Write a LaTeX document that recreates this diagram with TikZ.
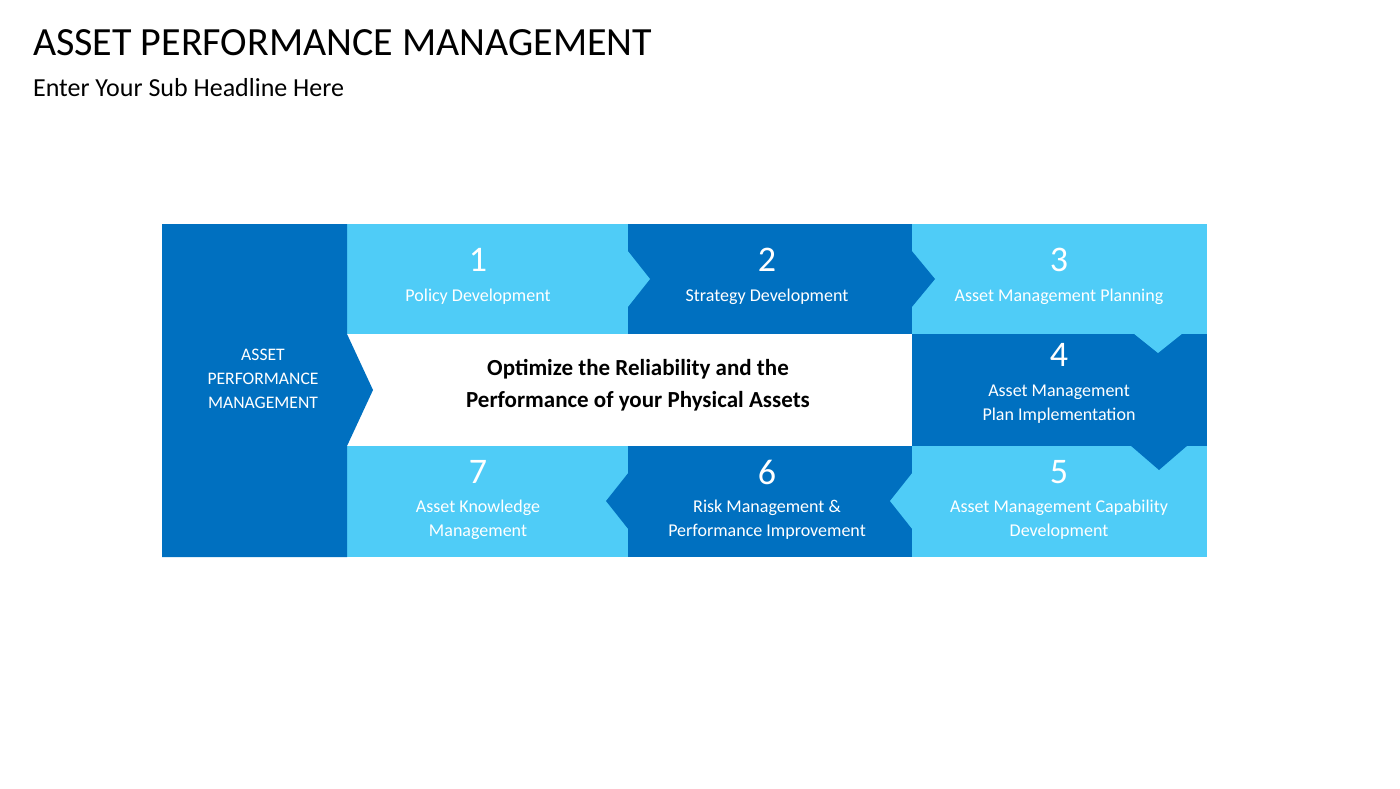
\documentclass[tikz,border=0pt]{standalone}
\usepackage{fontspec}
\setmainfont{Carlito}
\definecolor{lb}{HTML}{4FCCF7}
\definecolor{db}{HTML}{0070C0}
\begin{document}
\begin{tikzpicture}[x=0.5pt,y=-0.5pt,
  num/.style={text=white,font=\fontsize{18}{18}\selectfont,anchor=center},
  lbl/.style={text=white,font=\fontsize{9}{12}\selectfont,align=center,anchor=center}]
\useasboundingbox (0,0) rectangle (1400,788);
\fill[white] (0,0) rectangle (1400,788);
% row backgrounds
\fill[lb] (347,224) rectangle (628,334);
\fill[db] (628,224) rectangle (912,334);
\fill[lb] (912,224) rectangle (1207,334);
\fill[db] (912,334) rectangle (1207,446);
\fill[lb] (912,446) rectangle (1207,557);
\fill[db] (628,446) rectangle (912,557);
\fill[lb] (347,446) rectangle (628,557);
% tips
\fill[lb] (627,250) -- (650,279) -- (627,308) -- cycle;
\fill[db] (911,250) -- (935,279) -- (911,308) -- cycle;
\fill[lb] (1133,333) -- (1183,333) -- (1158,353) -- cycle;
\fill[db] (1130,445) -- (1188,445) -- (1159,470) -- cycle;
\fill[lb] (913,472) -- (890,501) -- (913,530) -- cycle;
\fill[db] (629,472) -- (606,501) -- (629,530) -- cycle;
% left column
\fill[db] (162,224) -- (347,224) -- (347,334) -- (373,390) -- (347,446) -- (347,557) -- (162,557) -- cycle;
% texts
\node[anchor=west,font=\fontsize{20}{20}\selectfont] (title) at (26,43) {ASSET PERFORMANCE MANAGEMENT};
\node[anchor=west,font=\fontsize{13}{13}\selectfont] (sub) at (26,88) {Enter Your Sub Headline Here};
\node[lbl,font=\fontsize{8.8}{12}\selectfont] (apm) at (263,379) {ASSET\\PERFORMANCE\\MANAGEMENT};
\node[font=\bfseries\fontsize{11.5}{16}\selectfont,align=center] (ctr) at (638,385) {Optimize the Reliability and the\\Performance of your Physical Assets};
\node[num] (n1) at (478,260) {1};
\node[lbl] (t1) at (478,297) {Policy Development};
\node[num] (n2) at (767,260) {2};
\node[lbl] (t2) at (767,297) {Strategy Development};
\node[num] (n3) at (1059,260) {3};
\node[lbl] (t3) at (1059,297) {Asset Management Planning};
\node[num] (n4) at (1059,355) {4};
\node[lbl] (t4) at (1059,404) {Asset Management\\Plan Implementation};
\node[num] (n5) at (1059,472) {5};
\node[lbl] (t5) at (1059,520) {Asset Management Capability\\Development};
\node[num] (n6) at (767,472) {6};
\node[lbl] (t6) at (767,520) {Risk Management \&\\Performance Improvement};
\node[num] (n7) at (478,472) {7};
\node[lbl] (t7) at (478,520) {Asset Knowledge\\Management};
\end{tikzpicture}
\end{document}
